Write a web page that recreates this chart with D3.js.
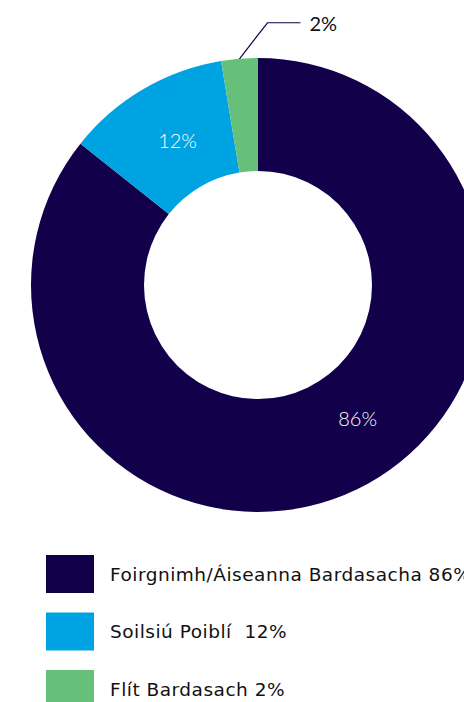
<!DOCTYPE html>
<html><head><meta charset="utf-8">
<script src="https://cdn.jsdelivr.net/npm/d3@7"></script>
<style>html,body{margin:0;padding:0;background:#fff;overflow:hidden}</style>
</head><body>
<svg id="c" width="464" height="702"></svg>
<script>
const categories = ["Foirgnimh/Áiseanna Bardasacha", "Soilsiú Poiblí", "Flít Bardasach"];
const values = [85.7, 11.7, 2.6];
const valueLabels = ["86%", "12%", "2%"];
const legendLabels = ["Foirgnimh/Áiseanna Bardasacha 86%", "Soilsiú Poiblí\u00a0 12%", "Flít Bardasach 2%"];
const colors = ["#12004a", "#00a3e1", "#66c07a"];

const svg = d3.select("#c");
const font = "Lato, 'Noto Sans', sans-serif";
const legendFont = "'DejaVu Sans', sans-serif";
const cx = 258, cy = 285, R = 227, r0 = 114;
const g = svg.append("g").attr("transform", `translate(${cx},${cy})`);
const pie = d3.pie().sort(null).value(d => d)(values);
const arc = d3.arc().innerRadius(r0).outerRadius(R);
g.selectAll("path").data(pie).enter().append("path")
  .attr("d", arc).attr("fill", (d, i) => colors[i]);

// inside labels
const labR = 166;
pie.forEach((d, i) => {
  if (i === 2) return;
  let a = (d.startAngle + d.endAngle) / 2;
  if (i === 0) a = Math.PI * 0.795;
  else a += 0.025;
  g.append("text").attr("x", labR * Math.sin(a)).attr("y", -labR * Math.cos(a))
    .attr("text-anchor", "middle").attr("dominant-baseline", "central")
    .attr("fill", "#fff").attr("font-family", font).attr("font-weight", 300)
    .attr("font-size", 20).text(valueLabels[i]);
});

// leader label for small slice
const s = pie[2];
const am = (s.startAngle + s.endAngle) / 2;
const p0 = [R * Math.sin(am), -R * Math.cos(am)];
const p1 = [p0[0] + 28, p0[1] - 36];
const p2 = [p1[0] + 33, p1[1]];
g.append("polyline").attr("points", [p0, p1, p2].map(p => p.join(",")).join(" "))
  .attr("fill", "none").attr("stroke", "#12004a").attr("stroke-width", 1.2);
g.append("text").attr("x", p2[0] + 9).attr("y", p2[1]).attr("dominant-baseline", "central")
  .attr("fill", "#111").attr("font-family", font).attr("font-weight", 400)
  .attr("font-size", 20).text(valueLabels[2]);

// legend
const lg = svg.append("g");
const ly = d3.scalePoint().domain(d3.range(categories.length)).range([574, 689]);
categories.forEach((c, i) => {
  lg.append("rect").attr("x", 46).attr("y", ly(i) - 19).attr("width", 48).attr("height", 38)
    .attr("fill", colors[i]);
  lg.append("text").attr("x", 110).attr("y", ly(i)).attr("dominant-baseline", "central")
    .attr("fill", "#111").attr("font-family", legendFont).attr("font-size", 18.5)
    .attr("letter-spacing", 0.5).text(legendLabels[i]);
});
</script>
</body></html>
